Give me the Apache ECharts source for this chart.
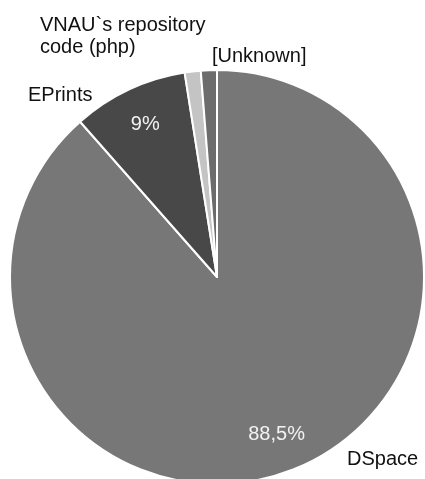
<!DOCTYPE html>
<html>
<head>
<meta charset="utf-8">
<script src="https://cdn.jsdelivr.net/npm/echarts@6/dist/echarts.min.js"></script>
<style>
html,body{margin:0;padding:0;background:#fff;}
#chart{width:425px;height:479px;}
</style>
</head>
<body>
<div id="chart"></div>
<script>
const categories = ['DSpace', 'EPrints', 'VNAU`s repository\ncode (php)', '[Unknown]'];
const values = [88.5, 9, 1.25, 1.25];
const percentLabels = ['88,5%', '9%', '', ''];
const colors = ['#777777', '#484848', '#c4c4c4', '#6c6c6c'];

const labelPos = [
  {x: 347, y: 459, align: 'left'},
  {x: 28, y: 95, align: 'left'},
  {x: 40, y: 36, align: 'left'},
  {x: 212, y: 56, align: 'left'}
];

const chart = echarts.init(document.getElementById('chart'));
const font = 'Liberation Sans, Arial, sans-serif';

const mainData = categories.map((c, i) => ({
  name: c, value: values[i], itemStyle: {color: colors[i]}
}));
const ringData = categories.map((c, i) => ({
  name: c, value: values[i], label: {formatter: percentLabels[i]}
}));

chart.setOption({
  animation: false,
  series: [
    {
      type: 'pie',
      center: [217, 277],
      radius: [0, 207],
      startAngle: 90,
      clockwise: true,
      silent: true,
      avoidLabelOverlap: false,
      itemStyle: {borderColor: '#ffffff', borderWidth: 2},
      label: {
        show: true,
        position: 'outside',
        alignTo: 'none',
        overflow: 'none',
        width: 300,
        color: '#111',
        fontFamily: font,
        fontSize: 20,
        lineHeight: 22,
        formatter: '{b}'
      },
      labelLine: {show: false},
      labelLayout: function (params) {
        const p = labelPos[params.dataIndex];
        return {x: p.x, y: p.y, align: p.align, verticalAlign: 'middle'};
      },
      data: mainData
    },
    {
      type: 'pie',
      center: [217, 277],
      radius: [124, 207],
      startAngle: 90,
      clockwise: true,
      silent: true,
      itemStyle: {color: 'rgba(0,0,0,0)', borderWidth: 0},
      label: {
        show: true,
        position: 'inside',
        color: '#f2f2f2',
        fontFamily: font,
        fontSize: 20
      },
      labelLine: {show: false},
      data: ringData
    }
  ]
});
</script>
</body>
</html>
